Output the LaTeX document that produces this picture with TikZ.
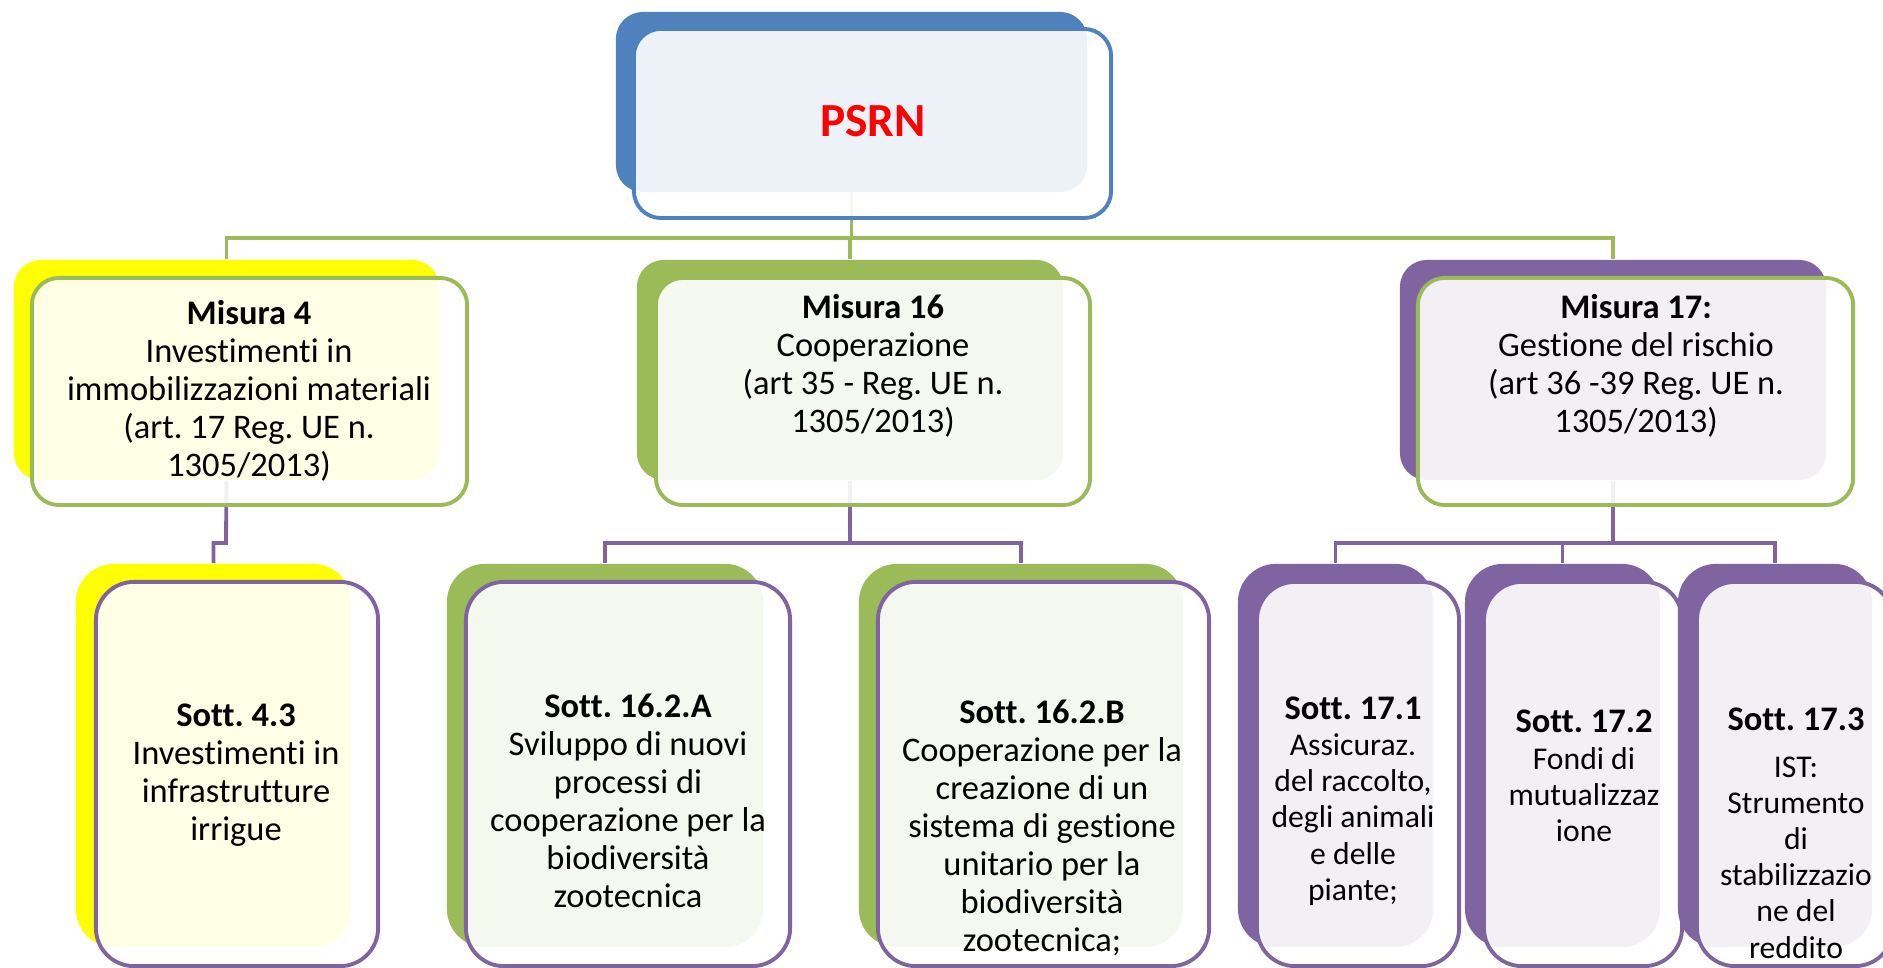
\documentclass[tikz,border=0pt]{standalone}
\usepackage{fontspec}
\setmainfont[Ligatures=NoCommon]{Carlito}
\frenchspacing
\usetikzlibrary{positioning,backgrounds}
\definecolor{psblue}{HTML}{4F81BD}
\definecolor{psgreen}{HTML}{9BBB59}
\definecolor{pspurple}{HTML}{8064A2}
\definecolor{psyellow}{HTML}{FFFF00}
\definecolor{psred}{HTML}{FF0000}
\newcommand{\stitle}[1]{{\fontsize{9.8}{10.8}\selectfont\bfseries #1}}
\tikzset{%
	backbox/.style  = {rectangle, draw = none, fill = #1, inner sep = 0pt}, % shadow block
	frontbox/.style = {rectangle, draw = #1, line width = 1.1pt, fill = white,
		fill opacity = 0.9, inner sep = 0pt}, % front block
	upper/.style    = {rounded corners = 0.27cm},
	lower/.style    = {rounded corners = 0.38cm},
	txt/.style      = {align = center, inner sep = 0pt,
		font = \fontsize{9.8}{10.8}\selectfont}, % text
	small/.style    = {font = \fontsize{9}{10.3}\selectfont}, % narrow boxes
	glink/.style    = {draw = psgreen, line width = 1.1pt}, % green link
	plink/.style    = {draw = pspurple, line width = 1.1pt} % purple link
}

\begin{document}
\begin{tikzpicture}[x=0.01cm, y=-0.01cm]
	\useasboundingbox (0,0) rectangle (1883,968);

	% top
	\node[backbox=psblue, upper, minimum width=4.71cm, minimum height=1.80cm]  (psrnb) at (851.5,102) {};
	\node[frontbox=psblue, upper, minimum width=4.77cm, minimum height=1.89cm] (psrn)  at (872.5,123.5) {};
	\node[txt, font=\fontsize{13.5}{16}\selectfont\bfseries, text=psred] (psrnt) at (873,121) {PSRN};

	% misure
	\node[backbox=psyellow, upper, minimum width=4.25cm, minimum height=2.20cm] (m4b) at (226.5,370) {};
	\node[frontbox=psgreen, upper, minimum width=4.35cm, minimum height=2.27cm] (m4)  at (249.5,391.5) {};
	\node[txt] (m4t) at (249,391) {\textbf{Misura 4}\\Investimenti in\\immobilizzazioni materiali\\(art. 17 Reg. UE n.\\1305/2013)};

	\node[backbox=psgreen, upper, minimum width=4.26cm, minimum height=2.20cm]  (m16b) at (850,370) {};
	\node[frontbox=psgreen, upper, minimum width=4.34cm, minimum height=2.27cm] (m16)  at (873,391.5) {};
	\node[txt] (m16t) at (873,366) {\textbf{Misura 16}\\Cooperazione\\(art 35 - Reg. UE n.\\1305/2013)};

	\node[backbox=pspurple, upper, minimum width=4.26cm, minimum height=2.20cm] (m17b) at (1613,370) {};
	\node[frontbox=psgreen, upper, minimum width=4.35cm, minimum height=2.27cm] (m17)  at (1635.5,391.5) {};
	\node[txt] (m17t) at (1636,366) {\textbf{Misura 17:}\\Gestione del rischio\\(art 36 -39 Reg. UE n.\\1305/2013)};

	% sottomisure
	\node[backbox=psyellow, lower, minimum width=2.75cm, minimum height=3.83cm]  (s43b) at (213.5,755.5) {};
	\node[frontbox=pspurple, lower, minimum width=2.82cm, minimum height=3.84cm] (s43)  at (237,774) {};
	\node[txt] (s43t) at (236,775) {\textbf{Sott. 4.3}\\Investimenti in\\infrastrutture\\irrigue};

	\node[backbox=psgreen, lower, minimum width=3.16cm, minimum height=3.83cm]   (s162ab) at (605,755.5) {};
	\node[frontbox=pspurple, lower, minimum width=3.24cm, minimum height=3.84cm] (s162a)  at (628,774) {};
	\node[txt] (s162at) at (628,801) {\textbf{Sott. 16.2.A}\\Sviluppo di nuovi\\processi di\\cooperazione per la\\biodiversità\\zootecnica};

	\node[backbox=psgreen, lower, minimum width=3.24cm, minimum height=3.83cm]   (s162bb) at (1021,755.5) {};
	\node[frontbox=pspurple, lower, minimum width=3.31cm, minimum height=3.84cm] (s162b)  at (1043.5,774) {};
	\node[txt] (s162bt) at (1042,828) {\textbf{Sott. 16.2.B}\\Cooperazione per la\\creazione di un\\sistema di gestione\\unitario per la\\biodiversità\\zootecnica;};

	\node[backbox=pspurple, lower, minimum width=1.95cm, minimum height=3.83cm]  (s171b) at (1335.5,755.5) {};
	\node[frontbox=pspurple, lower, minimum width=2.02cm, minimum height=3.84cm] (s171)  at (1358,774) {};
	\node[txt, small] (s171t) at (1353,801) {\stitle{Sott. 17.1}\\Assicuraz.\\del raccolto,\\degli animali\\e delle\\piante;};

	\node[backbox=pspurple, lower, minimum width=1.95cm, minimum height=3.83cm]  (s172b) at (1562.5,755.5) {};
	\node[frontbox=pspurple, lower, minimum width=1.98cm, minimum height=3.84cm] (s172)  at (1583,774) {};
	\node[txt, small] (s172t) at (1584,776) {\stitle{Sott. 17.2}\\Fondi di\\mutualizzaz\\ione};

	\node[backbox=pspurple, lower, minimum width=1.94cm, minimum height=3.83cm]  (s173b) at (1775,755.5) {};
	\node[frontbox=pspurple, lower, minimum width=1.96cm, minimum height=3.84cm] (s173)  at (1795,774) {};
	\node[txt, small] (s173t) at (1796,833) {\stitle{Sott. 17.3}\\[3pt]IST:\\Strumento\\di\\stabilizzazio\\ne del\\reddito};

	% links
	\begin{pgfonlayer}{background}
		\coordinate (bus0)  at (850,238);
		\coordinate (bus4)  at (226,543);
		\coordinate (bus16) at (850,543);
		\coordinate (bus17) at (1613,543);
		\draw[glink] (psrnb.south) -- (psrnb.south |- bus0);
		\draw[glink] (m4b.north) |- (bus0) -| (m17b.north);
		\draw[glink] (bus0) -- (m16b.north);
		\draw[plink] (m4b.south) -- (bus4) -| (s43b.north);
		\draw[plink] (m16b.south) -- (bus16);
		\draw[plink] (s162ab.north) |- (bus16) -| (s162bb.north);
		\draw[plink] (m17b.south) -- (bus17);
		\draw[plink] (s171b.north) |- (bus17) -| (s173b.north);
		\draw[plink] (bus17 -| s172b.north) -- (s172b.north);
	\end{pgfonlayer}
\end{tikzpicture}
\end{document}
